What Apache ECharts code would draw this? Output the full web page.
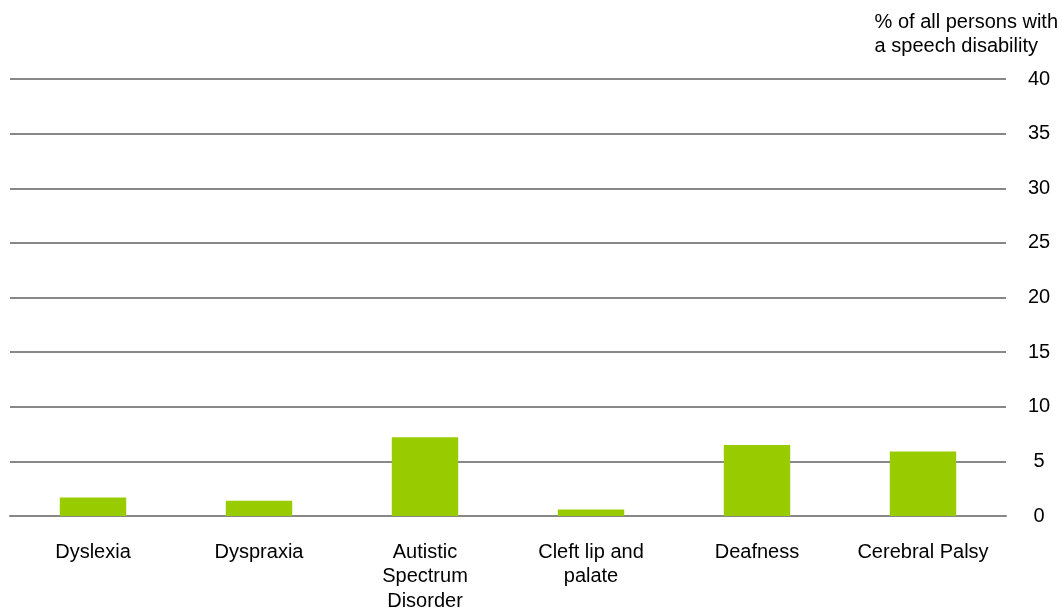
<!DOCTYPE html>
<html><head><meta charset="utf-8">
<script src="https://cdn.jsdelivr.net/npm/echarts@6/dist/echarts.min.js"></script>
<style>html,body{margin:0;padding:0;background:#fff}#c{width:1062px;height:611px}</style>
</head><body><div id="c"></div>
<script>
const categories = ['Dyslexia', 'Dyspraxia', 'Autistic\nSpectrum\nDisorder', 'Cleft lip and\npalate', 'Deafness', 'Cerebral Palsy'];
const values = [1.7, 1.4, 7.2, 0.6, 6.5, 5.9];
const yTicks = [0, 5, 10, 15, 20, 25, 30, 35, 40];
const axisTitle = '% of all persons with\na speech disability';

const FONT = '"Liberation Sans", Arial, sans-serif';
const chart = echarts.init(document.getElementById('c'));
chart.setOption({
  animation: false,
  grid: { left: 10, right: 56, top: 79, bottom: 95, containLabel: false, outerBoundsMode: 'none' },
  graphic: [{
    type: 'text', right: 4, top: 10,
    style: { text: axisTitle, font: '20px ' + FONT, fill: '#000', align: 'right', lineHeight: 24 }
  }],
  xAxis: {
    type: 'category', data: categories,
    axisLine: { show: true, lineStyle: { color: '#888', width: 2 } },
    axisTick: { show: false },
    axisLabel: { color: '#000', fontSize: 20, fontFamily: FONT, lineHeight: 24.5, margin: 24, interval: 0 }
  },
  yAxis: {
    type: 'value', position: 'right', min: yTicks[0], max: yTicks[yTicks.length - 1], interval: 5,
    axisLine: { show: false }, axisTick: { show: false },
    splitLine: { lineStyle: { color: '#888', width: 2 } },
    axisLabel: { color: '#000', fontSize: 20, fontFamily: FONT, align: 'center', margin: 33 }
  },
  series: [{
    type: 'bar', data: values, barCategoryGap: '60%',
    itemStyle: { color: '#99cc00' }
  }]
});
</script></body></html>
